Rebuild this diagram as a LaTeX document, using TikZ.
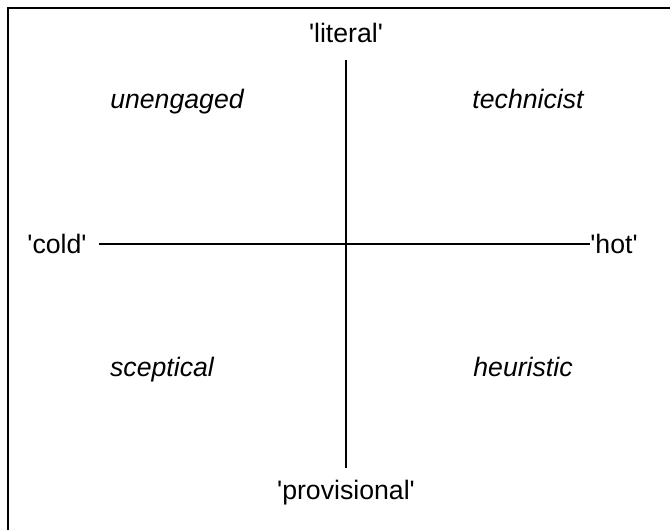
\documentclass[tikz,border=0pt]{standalone}
\usepackage{fontspec}
\setmainfont{Liberation Sans}
\usetikzlibrary{positioning}
\newcommand{\sq}{\textquotesingle}

\begin{document}
\begin{tikzpicture}[
    x=0.75pt, y=-0.75pt,
    pole/.style={inner sep=0pt, font=\fontsize{20}{23}\selectfont},
    quadrant/.style={inner sep=0pt, anchor=base, font=\fontsize{20}{23}\selectfont\itshape},
    axis/.style={line width=1.4pt, black}
  ]
  \useasboundingbox (0,0) rectangle (670,530);
  \clip (0,0) rectangle (670,530);
  % frame (only top and left edges fall inside)
  \draw[line width=1.8pt] (8,540) -- (8,8) -- (680,8);

  % Poles of the two axes
  \node[pole] (literal)     at (346,33)  {\sq literal\sq};
  \node[pole] (provisional) at (346,493) {\sq provisional\sq};
  \node[pole] (cold)        at (57,244)  {\sq cold\sq};
  \node[pole] (hot)         at (614,244) {\sq hot\sq};

  % Quadrants
  \node[quadrant] (unengaged)  at (177,109) {unengaged};
  \node[quadrant] (technicist) at (528,109) {technicist};
  \node[quadrant] (sceptical)  at (162,376) {sceptical};
  \node[quadrant] (heuristic)  at (523,376) {heuristic};

  % Axes
  \draw[axis, shorten <=17pt*0.75, shorten >=12pt*0.75] (literal) -- (provisional);
  \draw[axis, shorten <=12pt*0.75] (cold) -- (hot);
\end{tikzpicture}
\end{document}
